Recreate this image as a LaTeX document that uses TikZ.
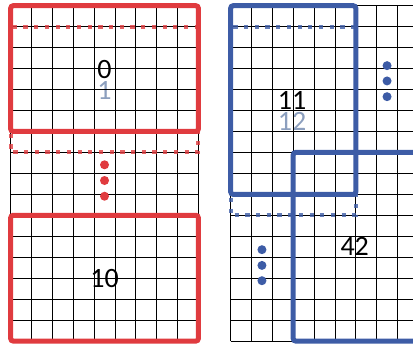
\documentclass[tikz,border=0pt]{standalone}
\usepackage{fontspec}
\setmainfont{Carlito}
\usepackage{tikz}
\usepackage{xcolor}
\definecolor{winred}{HTML}{E03B3F}
\definecolor{winblue}{HTML}{3D5CA6}
\definecolor{idxgray}{HTML}{8C9FBE}

\begin{document}
\begin{tikzpicture}[
  x=20.85pt, y=-20.96pt,
  gridlines/.style={draw=black, line width=0.6pt, step={(1,-1)}},
  window/.style={line width=5pt, rounded corners=2.5pt},
  shifted/.style={line width=4pt, dash pattern=on 4.2pt off 6.5pt, opacity=0.8},
  dotmark/.style={circle, fill, inner sep=0pt, minimum size=9pt},
  idx/.style={font=\fontsize{28}{28}\selectfont, inner sep=0pt},
  nextidx/.style={idx, text=idxgray},
]
\useasboundingbox (-0.513,-0.272) rectangle (19.295,16.14);
\clip (-0.513,-0.272) rectangle (19.295,16.14);
% Left grid
\node[idx]     (w0)  at (4.5,3.04) {0};
\node[nextidx] (w1)  at (4.5,4.04) {1};
\node[idx]     (w10) at (4.5,13)   {10};
\draw[gridlines] (0,0) grid (9,16);
\draw[shifted, winred] (0,1) rectangle (9,7);
\draw[window, winred] (0,0) rectangle (9,6);
\draw[window, winred] (0,10) rectangle (9,16);
\foreach \k/\y in {a/7.59, b/8.34, c/9.09}
  \node[dotmark, fill=winred] (rdot\k) at (4.5,\y) {};
% Right grid
\begin{scope}[shift={(10.55,0)}]
\node[idx]     (w11) at (2.95,4.53) {11};
\node[nextidx] (w12) at (2.95,5.53) {12};
\node[idx]     (w42) at (5.95,11.5) {42};
\draw[gridlines] (0,0) grid (10,16);
\draw[shifted, winblue] (0,1) rectangle (6,10);
\draw[window, winblue] (0,0) rectangle (6,9);
\draw[window, winblue] (3,7) rectangle (9,16);
\foreach \k/\y in {a/2.86, b/3.59, c/4.34}
  \node[dotmark, fill=winblue] (bdot\k) at (7.5,\y) {};
\foreach \k/\y in {a/11.64, b/12.39, c/13.12}
  \node[dotmark, fill=winblue] (ldot\k) at (1.5,\y) {};
\end{scope}
\end{tikzpicture}
\end{document}
